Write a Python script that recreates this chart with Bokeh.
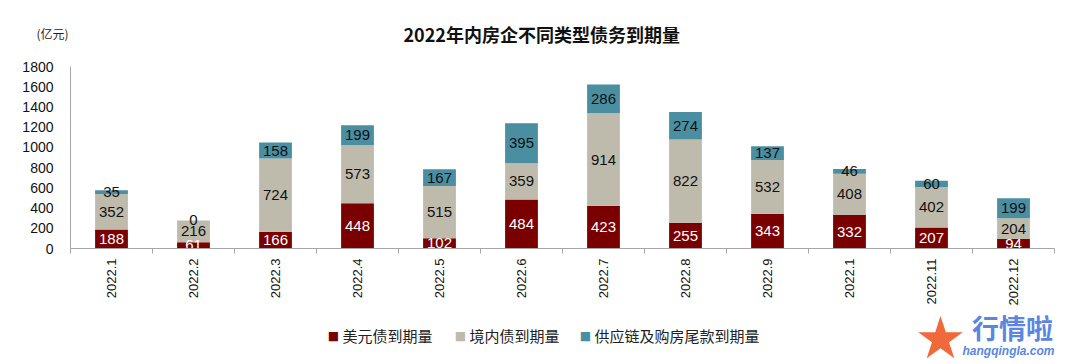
from bokeh.plotting import figure
from bokeh.models import ColumnDataSource, FixedTicker, Label, Range1d, Title
from bokeh.layouts import column
from bokeh.core.properties import value
from bokeh.embed import file_html
from bokeh.resources import INLINE
import math

categories = ["2022.1", "2022.2", "2022.3", "2022.4", "2022.5", "2022.6",
              "2022.7", "2022.8", "2022.9", "2022.1", "2022.11", "2022.12"]
usd_bonds = [188, 61, 166, 448, 102, 484, 423, 255, 343, 332, 207, 94]
domestic_bonds = [352, 216, 724, 573, 515, 359, 914, 822, 532, 408, 402, 204]
supply_chain = [35, 0, 158, 199, 167, 395, 286, 274, 137, 46, 60, 199]
series_names = ["美元债到期量", "境内债到期量", "供应链及购房尾款到期量"]
y_ticks = [0, 200, 400, 600, 800, 1000, 1200, 1400, 1600, 1800]

colors = ["#7A0000", "#BEBBAD", "#4A8EA2"]
LAT = "Liberation Sans"
CJK = "Noto Sans CJK SC"

n = len(categories)
xs = [i + 0.5 for i in range(n)]
src = ColumnDataSource(dict(x=xs, usd=usd_bonds, dom=domestic_bonds, sup=supply_chain))

# ---------------- main chart ----------------
p = figure(width=1064, height=308, output_backend="svg", toolbar_location=None,
           x_range=Range1d(0, n), y_range=Range1d(0, 1800),
           min_border_left=70, min_border_right=10, min_border_top=66, min_border_bottom=60)
p.outline_line_color = None
p.grid.visible = False
p.background_fill_color = "white"

p.title = Title(text="2022年内房企不同类型债务到期量", text_font=CJK, text_font_size="18px",
                text_font_style="bold", text_color="#111111", align="left", offset=333,
                standoff=5)

rs = p.vbar_stack(["usd", "dom", "sup"], x="x", width=0.4, source=src,
                  color=colors, line_color=None)

# data labels
bottom = [0] * n
for vals, col in zip([usd_bonds, domestic_bonds, supply_chain], ["white", "#111111", "#111111"]):
    ys = [b + v / 2 for b, v in zip(bottom, vals)]
    lsrc = ColumnDataSource(dict(x=xs, y=ys, t=[str(v) for v in vals]))
    p.text(x="x", y="y", text="t", source=lsrc, text_align="center", text_baseline="middle",
           text_font=value(LAT), text_font_size="15px", text_color=col)
    bottom = [b + v for b, v in zip(bottom, vals)]

# axes
p.yaxis.ticker = FixedTicker(ticks=y_ticks)
p.yaxis.major_tick_line_color = None
p.yaxis.minor_tick_line_color = None
p.yaxis.axis_line_color = "#A6A6A6"
p.yaxis.major_label_text_font = LAT
p.yaxis.major_label_text_font_size = "14px"
p.yaxis.major_label_text_color = "#111111"
p.yaxis.major_label_standoff = 11

p.xaxis.ticker = FixedTicker(ticks=xs, minor_ticks=list(range(n + 1)))
p.xaxis.major_label_overrides = {x: c for x, c in zip(xs, categories)}
p.xaxis.major_tick_line_color = None
p.xaxis.minor_tick_in = 0
p.xaxis.minor_tick_out = 5
p.xaxis.minor_tick_line_color = "#A6A6A6"
p.xaxis.axis_line_color = "#A6A6A6"
p.xaxis.major_label_orientation = math.pi / 2
p.xaxis.major_label_text_font = LAT
p.xaxis.major_label_text_font_size = "13px"
p.xaxis.major_label_text_color = "#111111"
p.xaxis.major_label_standoff = 4

# unit label, in the "above" side panel (origin at frame top-left, y upward)
p.add_layout(Label(x=-18, y=33, x_units="screen", y_units="screen", text="(亿元)",
                   text_font=CJK, text_font_size="12px", text_align="center",
                   text_baseline="middle", text_color="#222222"), "above")

# ---------------- legend + watermark strip ----------------
q = figure(width=1064, height=56, output_backend="svg", toolbar_location=None,
           x_range=Range1d(70, 1054), y_range=Range1d(364, 308),
           x_axis_type=None, y_axis_type=None,
           min_border_left=70, min_border_right=10, min_border_top=0, min_border_bottom=0)
q.outline_line_color = None
q.grid.visible = False

legend_x = [333, 460, 585]
for lx, name, c in zip(legend_x, series_names, colors):
    q.add_layout(Label(x=lx, y=335, text="■", text_font="DejaVu Sans", text_font_size="12px",
                       text_align="center", text_baseline="middle", text_color=c))
    q.add_layout(Label(x=lx + 9, y=335, text=name, text_font=CJK, text_font_size="15px",
                       text_align="left", text_baseline="middle", text_color="#222222"))

q.add_layout(Label(x=940, y=337, text="★", text_font="DejaVu Sans", text_font_size="58px",
                   text_align="center", text_baseline="middle", text_color="#F0693A"))
q.add_layout(Label(x=1012, y=327, text="行情啦", text_font=CJK, text_font_size="27px",
                   text_font_style="bold", text_align="center", text_baseline="middle",
                   text_color="#5B86E0"))
q.add_layout(Label(x=1008, y=350, text="hangqingla.com", text_font=LAT, text_font_size="12px",
                   text_font_style="bold italic", text_align="center", text_baseline="middle",
                   text_color="#5B86E0"))

layout = column(p, q, spacing=0)
open("out.html", "w").write(file_html(layout, INLINE))
